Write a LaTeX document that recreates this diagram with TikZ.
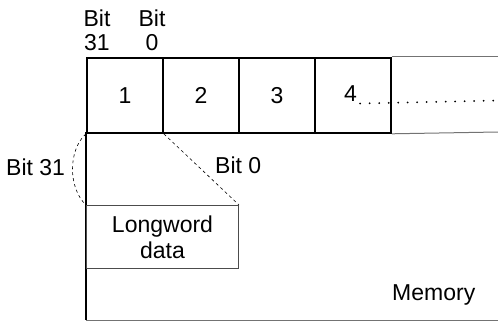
\documentclass[tikz,border=0pt]{standalone}
\usepackage{fontspec}
\setmainfont{Liberation Sans}
\begin{document}
\begin{tikzpicture}[x=1pt,y=-1pt,
  lbl/.style={inner sep=0pt,font=\fontsize{23}{24}\selectfont},
  cell/.style={draw=black,line width=1.8pt,minimum width=76pt,minimum height=75pt,inner sep=0pt,anchor=north west,font=\fontsize{23}{24}\selectfont},
  thinline/.style={draw=black!55,line width=1pt},
  dashline/.style={draw=black,line width=0.6pt,dash pattern=on 3pt off 3pt}]
\useasboundingbox (0,0) rectangle (498,321);
% memory outline
\coordinate (mt) at (86,132);
\coordinate (mb) at (86,320);
\coordinate (mr) at (498,320);
\draw[line width=1.3pt] (mt) -- (mb);
\draw[thinline] (mb) -- (mr);
% cells
\node[cell] (c1) at (86,57) {1};
\node[cell] (c2) at (162,57) {2};
\node[cell] (c3) at (238,57) {3};
\node[cell] (c4) at (314,57) {};
\coordinate (c5tr) at (498,57);
\coordinate (c5br) at (498,132);
\draw[thinline] (c4.north east) -- (c5tr);
\draw[thinline] (c4.south east) -- (c5br);
\node[lbl,anchor=base west] (n4) at (344,102) {4};
\coordinate (dotend) at (498,100.5);
\draw[line width=2pt,line cap=round,dash pattern=on 0pt off 9.5pt] ([xshift=3pt,yshift=-1.5pt]n4.base east) -- (dotend);
% top labels
\node[lbl,align=center,anchor=base] (b31) at (97,51) {Bit\\31};
\node[lbl,align=center,anchor=base] (b0) at (152,51) {Bit\\0};
% longword box
\node[thinline,draw=black!70,minimum width=152pt,minimum height=63pt,anchor=north west,inner sep=0pt,align=center,font=\fontsize{23}{26}\selectfont] (lw) at (86,205) {Longword\\data};
% dashed expansion lines
\draw[dashline] (c1.south west) .. controls (68,150) and (68,188) .. (lw.north west);
\draw[dashline] (c1.south east) -- (lw.north east);
\node[lbl,anchor=base west] (l31) at (6,175) {Bit 31};
\node[lbl,anchor=base west] (l0) at (215,173) {Bit 0};
\node[lbl,anchor=base west] (mem) at (392,300) {Memory};
\end{tikzpicture}
\end{document}
